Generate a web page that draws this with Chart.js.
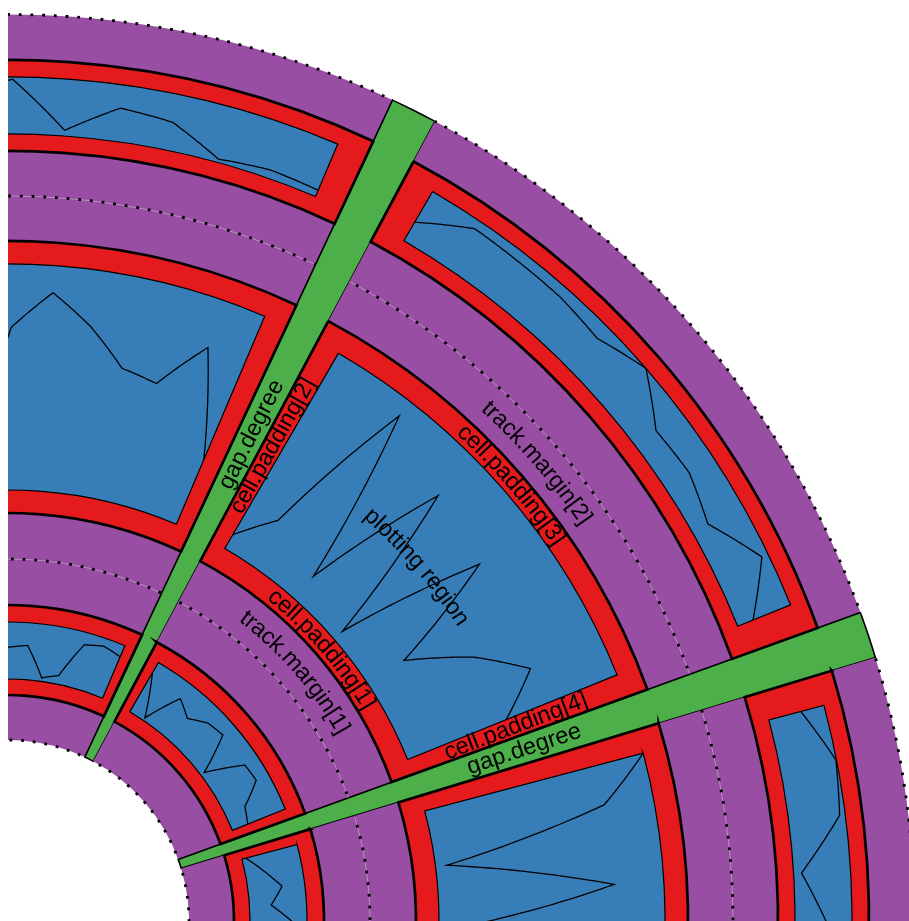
<!DOCTYPE html>
<html>
<head>
<meta charset="utf-8">
<script src="https://cdn.jsdelivr.net/npm/chart.js@4.4.1/dist/chart.umd.min.js"></script>
<style>
  html, body { margin: 0; padding: 0; background: #fff; }
  #wrap { position: absolute; left: 8px; top: 0; width: 901px; height: 921px; overflow: hidden; }
  #wrap canvas { position: absolute; left: -920px; top: 1px; }
</style>
</head>
<body>
<div id="wrap">
  <canvas id="bg" width="1840" height="1840"></canvas>
  <canvas id="cells" width="1840" height="1840"></canvas>
  <canvas id="plots" width="1840" height="1840"></canvas>
</div>
<script>
"use strict"

// sectors and gaps (degrees, clockwise from 12 o'clock)
let sectors = ["a", "b", "c", "d", "e", "f", "g", "h"]
let sectorDegree = 42
let gapDegree = 3
let startDegree = -16.9
let cellPaddingDegree = 2.1

// x of the points in every plotting region
let xs = [0, 1, 2, 3, 4, 5, 6, 7, 8, 9, 10]

// y of the lines (0..1 of the plotting region), null = off the picture
let track1a = [null, null, null, 0.75, 0.96, 0.10, 0.59, 0.50, 0.06, 0.15, 0.12]
let track1b = [0.38, 0.84, 0.82, 0.81, 0.73, 1.00, 0.45, 0.50, 0.31, 0.88, 0.29]
let track1c = [0.58, 0.99, 0.90, 0.14, 0.58, null, null, null, null, null, null]
let track2a = [null, null, null, 0.21, 0.72, 0.88, 0.75, 0.59, 0.56, 0.78, 0.31]
let track2b = [0.07, 0.23, 0.92, 0.13, 0.77, 0.05, 0.71, 0.19, 0.46, 0.66, 0.47]
let track2c = [1.00, 0.78, 0.05, 0.78, 0.17, null, null, null, null, null, null]
let track3a = [null, null, null, 0.55, 0.56, 0.60, 0.06, 0.15, 0.78, 0.86, 0.79]
let track3b = [0.79, 0.05, 0.69, 0.50, 0.69, 0.74, 0.07, 0.73, 0.76, 0.37, 0.29]
let track3c = [0.07, 0.33, 0.60, 0.38, 0.76, null, null, null, null, null, null]

let lines = [
    [track1a, track1b, track1c],
    [track2a, track2b, track2c],
    [track3a, track3b, track3c]
]

// labels along the circle (outer to inner) and across it
let bandLabels = ["track.margin[2]", "cell.padding[3]", "plotting region", "cell.padding[1]", "track.margin[1]"]
let radialLabels = ["gap.degree", "cell.padding[2]", "cell.padding[4]", "gap.degree"]

// layout in pixels
let radius = { outer: 906.5, inner: 181 }
let cellOuter = [861, 680, 316]
let cellInner = [770, 408, 226]
let padTop = [17, 23, 17]
let padBottom = [17, 23, 16]

let purple = "#984EA3"
let red = "#E41A1C"
let blue = "#377EB8"
let green = "#4DAF4A"
let none = "rgba(0,0,0,0)"
let font = '23.5px "Liberation Sans", Arial, sans-serif'

let baseOptions = {
    responsive: false,
    animation: false,
    events: [],
    rotation: startDegree,
    plugins: { legend: { display: false }, tooltip: { enabled: false } }
}

function ring(data, colors, borders, weight) {
    return {
        data: data,
        backgroundColor: colors,
        borderColor: "#000",
        borderWidth: borders,
        borderJoinStyle: "miter",
        weight: weight
    }
}

function arcProps(arc) {
    return arc.getProps(["x", "y", "startAngle", "endAngle", "innerRadius", "outerRadius"], true)
}

// background: track margins + gaps
let bgData = [], bgColor = [], bgBorder = []
sectors.forEach(() => {
    bgData.push(sectorDegree, gapDegree)
    bgColor.push(purple, green)
    bgBorder.push(0, 1.6)
})

let dotted = {
    id: "dotted",
    afterDatasetsDraw(chart) {
        let ctx = chart.ctx
        let arcs = chart.getDatasetMeta(0).data
        let c = arcProps(arcs[0])
        let radii = [radius.outer, (cellInner[0] + cellOuter[1]) / 2, (cellInner[1] + cellOuter[2]) / 2, radius.inner]
        ctx.save()
        ctx.beginPath()
        arcs.forEach((arc, i) => {
            if (i % 2) return
            let p = arcProps(arc)
            ctx.moveTo(p.x, p.y)
            ctx.arc(p.x, p.y, radius.outer + 8, p.startAngle, p.endAngle)
            ctx.closePath()
        })
        ctx.clip()
        radii.forEach(r => {
            ctx.beginPath()
            ctx.arc(c.x, c.y, r, 0, Math.PI * 2)
            ctx.setLineDash([])
            ctx.lineWidth = 0.8
            ctx.strokeStyle = "rgba(255,255,255,0.45)"
            if (r != radius.outer && r != radius.inner) ctx.stroke()
            ctx.setLineDash([2.8, 8.9])
            ctx.lineWidth = 2.8
            ctx.strokeStyle = "#000"
            ctx.stroke()
        })
        ctx.restore()
    }
}

let bgChart = new Chart(document.querySelector("#bg"), {
    type: "doughnut",
    data: { datasets: [ring(bgData, bgColor, bgBorder, 1)] },
    options: Object.assign({}, baseOptions, {
        radius: radius.outer,
        cutout: (radius.inner / radius.outer * 100) + "%"
    }),
    plugins: [dotted]
})

// cells (red), with empty rings for the margins between tracks
let cellDatasets = []
cellOuter.forEach((outer, t) => {
    let data = [], colors = [], borders = []
    sectors.forEach(() => {
        data.push(sectorDegree, gapDegree)
        colors.push(red, none)
        borders.push(2.7, 0)
    })
    cellDatasets.push(ring(data, colors, borders, outer - cellInner[t]))
    if (t < cellOuter.length - 1) {
        cellDatasets.push(ring([360], [none], [0], cellInner[t] - cellOuter[t + 1]))
    }
})

let cellChart = new Chart(document.querySelector("#cells"), {
    type: "doughnut",
    data: { datasets: cellDatasets },
    options: Object.assign({}, baseOptions, {
        radius: cellOuter[0],
        cutout: (cellInner[2] / cellOuter[0] * 100) + "%"
    })
})

// plotting regions (blue)
let plotOuter = cellOuter.map((r, t) => r - padTop[t])
let plotInner = cellInner.map((r, t) => r + padBottom[t])
let plotDatasets = []
plotOuter.forEach((outer, t) => {
    let data = [], colors = [], borders = []
    sectors.forEach(() => {
        data.push(cellPaddingDegree, sectorDegree - 2 * cellPaddingDegree, cellPaddingDegree, gapDegree)
        colors.push(none, blue, none, none)
        borders.push(0, 1.2, 0, 0)
    })
    plotDatasets.push(ring(data, colors, borders, outer - plotInner[t]))
    if (t < plotOuter.length - 1) {
        plotDatasets.push(ring([360], [none], [0], plotInner[t] - plotOuter[t + 1]))
    }
})

function bendText(ctx, text, cx, cy, r, mid) {
    let total = ctx.measureText(text).width
    let a = mid - total / 2 / r
    for (let ch of text) {
        let w = ctx.measureText(ch).width
        let ang = a + w / 2 / r
        ctx.save()
        ctx.translate(cx + r * Math.cos(ang), cy + r * Math.sin(ang))
        ctx.rotate(ang + Math.PI / 2)
        ctx.fillText(ch, 0, 0)
        ctx.restore()
        a += w / r
    }
}

function radialText(ctx, text, cx, cy, r, ang) {
    ctx.save()
    ctx.translate(cx + r * Math.cos(ang), cy + r * Math.sin(ang))
    ctx.rotate(ang)
    ctx.fillText(text, 0, 0)
    ctx.restore()
}

let decorations = {
    id: "decorations",
    afterDatasetsDraw(chart) {
        let ctx = chart.ctx
        let n = xs.length - 1
        ctx.save()
        ctx.strokeStyle = "#000"
        ctx.lineWidth = 1.3
        ctx.lineJoin = "miter"
        lines.forEach((track, t) => {
            let arcs = chart.getDatasetMeta(t * 2).data
            track.forEach((values, s) => {
                let p = arcProps(arcs[s * 4 + 1])
                let pos = (x, y) => {
                    let a = p.startAngle + (x - xs[0]) / (xs[n] - xs[0]) * (p.endAngle - p.startAngle)
                    let r = p.innerRadius + y * (p.outerRadius - p.innerRadius)
                    return [p.x + r * Math.cos(a), p.y + r * Math.sin(a)]
                }
                ctx.beginPath()
                let started = false
                for (let i = 1; i <= n; i++) {
                    if (values[i - 1] == null || values[i] == null) { started = false; continue }
                    for (let k = 0; k <= 20; k++) {
                        let f = k / 20
                        let q = pos(xs[i - 1] + f * (xs[i] - xs[i - 1]), values[i - 1] + f * (values[i] - values[i - 1]))
                        if (!started) { ctx.moveTo(q[0], q[1]); started = true } else ctx.lineTo(q[0], q[1])
                    }
                }
                ctx.stroke()
            })
        })

        // annotations around sector "b" of the middle track
        let plot = arcProps(chart.getDatasetMeta(2).data[5])
        let cell = arcProps(cellChart.getDatasetMeta(2).data[2])
        let prevCell = arcProps(cellChart.getDatasetMeta(0).data[2])
        let nextCell = arcProps(cellChart.getDatasetMeta(4).data[2])
        let mid = (cell.startAngle + cell.endAngle) / 2
        let bands = [
            (cell.outerRadius + (prevCell.innerRadius + cell.outerRadius) / 2) / 2,
            (cell.outerRadius + plot.outerRadius) / 2,
            (plot.outerRadius + plot.innerRadius) / 2,
            (plot.innerRadius + cell.innerRadius) / 2,
            (cell.innerRadius + (cell.innerRadius + nextCell.outerRadius) / 2) / 2
        ]
        ctx.fillStyle = "#000"
        ctx.font = font
        ctx.textAlign = "center"
        ctx.textBaseline = "middle"
        bandLabels.forEach((label, i) => bendText(ctx, label, plot.x, plot.y, bands[i], mid))

        let pad = cellPaddingDegree * Math.PI / 180
        let gap = gapDegree * Math.PI / 180
        let rMid = bands[2]
        let angles = [cell.startAngle - gap / 2, cell.startAngle + pad / 2, cell.endAngle - pad / 2, cell.endAngle + gap / 2]
        radialLabels.forEach((label, i) => radialText(ctx, label, plot.x, plot.y, rMid, angles[i]))
        ctx.restore()
    }
}

let plotChart = new Chart(document.querySelector("#plots"), {
    type: "doughnut",
    data: { datasets: plotDatasets },
    options: Object.assign({}, baseOptions, {
        radius: plotOuter[0],
        cutout: (plotInner[2] / plotOuter[0] * 100) + "%"
    }),
    plugins: [decorations]
})
</script>
</body>
</html>
